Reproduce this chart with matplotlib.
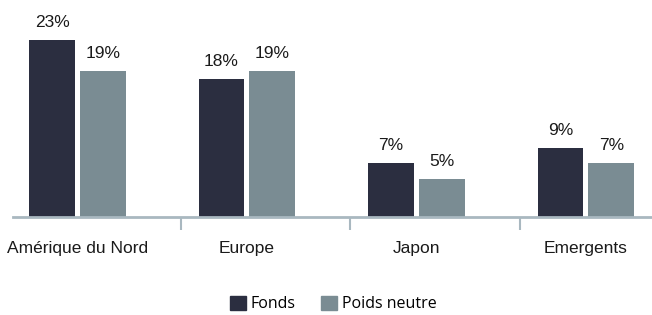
import numpy as np
import matplotlib.pyplot as plt
from matplotlib.patches import Patch

# Données
regions = ['Amérique du Nord', 'Europe', 'Japon', 'Emergents']
fonds = [23, 18, 7, 9]
poids_neutre = [19, 19, 5, 7]

couleur_fonds = '#2b2e40'
couleur_poids = '#7a8c93'
couleur_axe = '#a9b8c0'

plt.rcParams['font.family'] = ['Liberation Sans', 'DejaVu Sans']

fig = plt.figure(figsize=(6.52, 3.15), dpi=100)
ax = fig.add_axes([0.02, 0.311, 0.98, 0.689])

x = np.arange(len(regions))
largeur = 0.27
b1 = ax.bar(x - 0.15, fonds, largeur, color=couleur_fonds)
b2 = ax.bar(x + 0.15, poids_neutre, largeur, color=couleur_poids)

for barres, valeurs in [(b1, fonds), (b2, poids_neutre)]:
    for b, v in zip(barres, valeurs):
        ax.annotate('{}%'.format(v), (b.get_x() + b.get_width() / 2, v),
                    xytext=(0, 7), textcoords='offset points',
                    ha='center', va='bottom', fontsize=12.5, color='#1a1a1a')

ax.set_xlim(-0.38, 3.39)
ax.set_ylim(0, 28.2)

# axe horizontal et graduations entre les catégories
for s in ['top', 'right', 'left']:
    ax.spines[s].set_visible(False)
ax.spines['bottom'].set_color(couleur_axe)
ax.spines['bottom'].set_linewidth(2)
ax.set_yticks([])
ax.set_xticks(x)
ax.set_xticklabels(regions, fontsize=12.5, color='#1a1a1a')
ax.tick_params(axis='x', which='major', length=0, pad=17)
ax.set_xticks(x[:-1] + 0.61, minor=True)
ax.tick_params(axis='x', which='minor', length=9, width=1.5, color=couleur_axe)

legende = [Patch(color=couleur_fonds, label='Fonds'),
           Patch(color=couleur_poids, label='Poids neutre')]
fig.legend(handles=legende, loc='center', bbox_to_anchor=(0.511, 0.035), ncol=2,
           frameon=False, handlelength=1.0, handleheight=1.0, handletextpad=0.3,
           columnspacing=1.6, prop={'family': 'Open Sans', 'size': 11.5})

plt.savefig('out.png', dpi=100)
